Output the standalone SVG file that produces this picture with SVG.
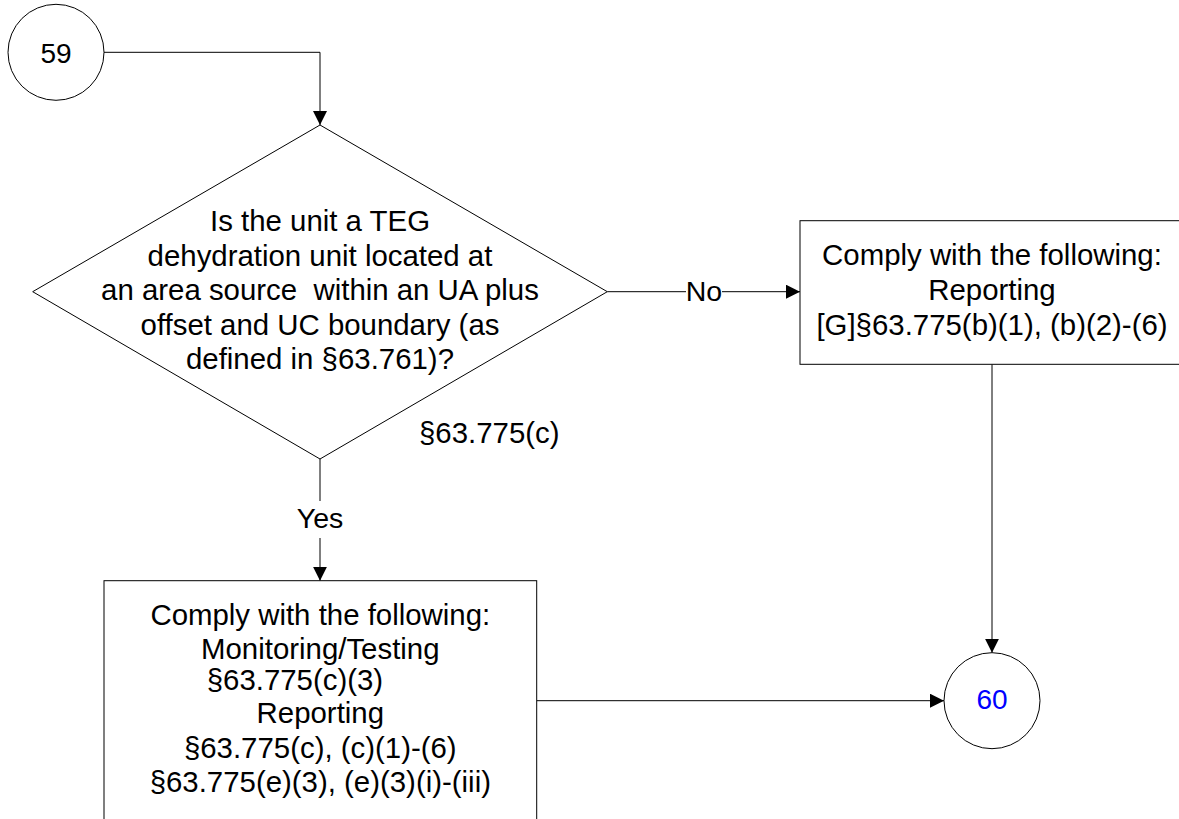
<svg xmlns="http://www.w3.org/2000/svg" width="1179" height="819" viewBox="0 0 1179 819">
  <style>
    .shape { fill: #ffffff; stroke: #000000; stroke-width: 1; }
    .conn { fill: none; stroke: #000000; stroke-width: 1; }
    .t { font-family: "Liberation Sans", Arial, sans-serif; font-size: 29.4px; fill: #000000; text-anchor: middle; }
    .num { font-family: "Liberation Sans", Arial, sans-serif; font-size: 28px; text-anchor: middle; }
    .lbl { font-family: "Liberation Sans", Arial, sans-serif; font-size: 28.5px; fill: #000000; text-anchor: middle; }
  </style>
  <defs>
    <marker id="arrow" markerUnits="userSpaceOnUse" markerWidth="14" markerHeight="14" refX="14" refY="7" orient="auto">
      <path d="M0,0 L14,7 L0,14 Z" fill="#000000"/>
    </marker>
  </defs>
  <rect width="1179" height="819" fill="#ffffff"/>

  <g id="connectors">
    <path class="conn" d="M104,52.3 H320 V125" marker-end="url(#arrow)"/>
    <path class="conn" d="M607.3,291.7 H800" marker-end="url(#arrow)"/>
    <rect x="686" y="276" width="36" height="30" fill="#ffffff"/>
    <text class="lbl" x="704" y="301">No</text>
    <path class="conn" d="M320,459 V580.7" marker-end="url(#arrow)"/>
    <rect x="298" y="501" width="44" height="37" fill="#ffffff"/>
    <text class="lbl" x="320" y="528">Yes</text>
    <path class="conn" d="M992,364.3 V652.7" marker-end="url(#arrow)"/>
    <path class="conn" d="M536.7,700.7 H944" marker-end="url(#arrow)"/>
  </g>

  <g id="node-59">
    <circle class="shape" cx="56" cy="52.3" r="48"/>
    <text class="num" x="56" y="62.7" fill="#000000">59</text>
  </g>

  <g id="node-decision">
    <polygon class="shape" points="320,125 607.3,291.7 320,459 32.7,291.7"/>
    <text class="t" x="320" y="231">Is the unit a TEG</text>
    <text class="t" x="320" y="265.5">dehydration unit located at</text>
    <text class="t" x="320" y="300" xml:space="preserve">an area source  within an UA plus</text>
    <text class="t" x="320" y="334.5">offset and UC boundary (as</text>
    <text class="t" x="320" y="369">defined in §63.761)?</text>
    <text class="t" x="419" y="443" style="text-anchor:start">§63.775(c)</text>
  </g>

  <g id="node-no-box">
    <rect class="shape" x="800" y="220.7" width="390" height="143.6"/>
    <text class="t" x="992" y="265">Comply with the following:</text>
    <text class="t" x="992" y="300">Reporting</text>
    <text class="t" x="992" y="335">[G]§63.775(b)(1), (b)(2)-(6)</text>
  </g>

  <g id="node-yes-box">
    <rect class="shape" x="104" y="580.7" width="432.7" height="260"/>
    <text class="t" x="320.3" y="625">Comply with the following:</text>
    <text class="t" x="320.3" y="659">Monitoring/Testing</text>
    <text class="t" x="206.7" y="690" style="text-anchor:start">§63.775(c)(3)</text>
    <text class="t" x="320.3" y="723">Reporting</text>
    <text class="t" x="320.3" y="758">§63.775(c), (c)(1)-(6)</text>
    <text class="t" x="320.3" y="792">§63.775(e)(3), (e)(3)(i)-(iii)</text>
  </g>

  <g id="node-60">
    <circle class="shape" cx="992" cy="700.7" r="48"/>
    <text class="num" x="992" y="709.3" fill="#0000ff">60</text>
  </g>
</svg>
